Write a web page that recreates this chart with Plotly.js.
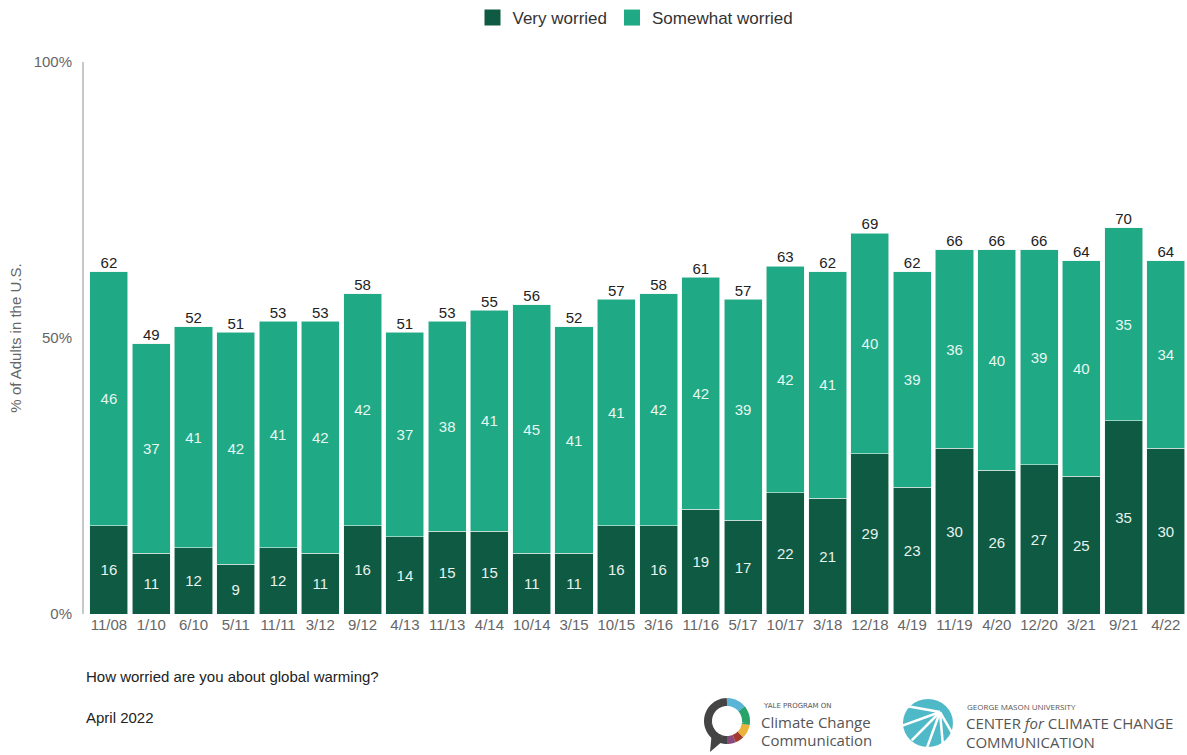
<!DOCTYPE html>
<html><head><meta charset="utf-8">
<script src="https://cdn.plot.ly/plotly-3.0.1.min.js"></script>
<style>body{margin:0;background:#fff}#chart{width:1187px;height:755px}</style>
</head><body><div id="chart"></div>
<script>
const categories = ["11/08","1/10","6/10","5/11","11/11","3/12","9/12","4/13","11/13","4/14","10/14","3/15","10/15","3/16","11/16","5/17","10/17","3/18","12/18","4/19","11/19","4/20","12/20","3/21","9/21","4/22"];
const veryWorried = [16,11,12,9,12,11,16,14,15,15,11,11,16,16,19,17,22,21,29,23,30,26,27,25,35,30];
const somewhatWorried = [46,37,41,42,41,42,42,37,38,41,45,41,41,42,42,39,42,41,40,39,36,40,39,40,35,34];
const totals = [62,49,52,51,53,53,58,51,53,55,56,52,57,58,61,57,63,62,69,62,66,66,66,64,70,64];
const yTickVals = [0,50,100];
const yTickText = ["0%","50%","100%"];

const W = 1187, H = 755, L = 84, R = 0, T = 62, B = 141;
const pw = W - L - R, ph = H - T - B;
const px = x => (x - L) / pw;
const py = y => (H - B - y) / ph;

const f = "Liberation Sans, Arial, sans-serif";
const dark = "#0e5a43", light = "#1fa985";
// upper segment reaches the rounded total shown above each bar
const upperHeights = totals.map((t,i) => t - veryWorried[i]);
const traces = [
  {type:"bar", name:"Very worried", x:categories, y:veryWorried, marker:{color:dark, line:{color:"#e8f5f0", width:0.6}},
   text:veryWorried.map(String), textposition:"inside", insidetextanchor:"middle", textangle:0, showlegend:false,
   textfont:{color:"#e6f3ee", size:15, family:f}, hoverinfo:"skip"},
  {type:"bar", name:"Somewhat worried", x:categories, y:upperHeights, marker:{color:light, line:{color:"#e8f5f0", width:0.6}},
   text:somewhatWorried.map(String), textposition:"inside", insidetextanchor:"middle", textangle:0, showlegend:false,
   textfont:{color:"#e6f7f1", size:15, family:f}, hoverinfo:"skip"},
  {type:"scatter", mode:"text", x:categories, y:totals, text:totals.map(String),
   textposition:"top center", textfont:{color:"#222", size:15, family:f},
   showlegend:false, hoverinfo:"skip", cliponaxis:false},
  {type:"scatter", mode:"markers", name:"Very worried", x:[null], y:[null], marker:{symbol:"square", size:20, color:dark}, showlegend:true},
  {type:"scatter", mode:"markers", name:"Somewhat worried", x:[null], y:[null], marker:{symbol:"square", size:20, color:light}, showlegend:true}
];

function arcPath(cx, cy, r, a0, a1) {
  const n = 24; let d = "";
  for (let i = 0; i <= n; i++) {
    const a = (a0 + (a1 - a0) * i / n) * Math.PI / 180;
    const x = px(cx + r * Math.cos(a)), y = py(cy - r * Math.sin(a));
    d += (i === 0 ? "M" : "L") + x.toFixed(5) + "," + y.toFixed(5);
  }
  return d;
}
const shapes = [];
// Yale ring logo
const ring = [[90,250,"#444"],[250,272,"#444"],[-90,-68,"#8a4a7e"],[-68,-45,"#a33a2e"],[-45,-10,"#e8b43a"],[-10,40,"#2aa36b"],[40,90,"#5ab4d6"]];
ring.forEach(([a0,a1,c]) => shapes.push({type:"path", xref:"paper", yref:"paper", path:arcPath(727,721,19,a0,a1), line:{color:c, width:8}}));
shapes.push({type:"path", xref:"paper", yref:"paper", path:"M"+px(712)+","+py(731)+"L"+px(710)+","+py(752)+"L"+px(724)+","+py(740)+"Z", fillcolor:"#444", line:{width:0}});
// GMU shell logo
shapes.push({type:"circle", xref:"paper", yref:"paper", x0:px(903), x1:px(953), y0:py(747), y1:py(699), fillcolor:"#4fb9c8", line:{width:0}});
[170,200,225,250,275,300].forEach(a => {
  const r = a*Math.PI/180, cx = 940, cy = 712;
  shapes.push({type:"line", xref:"paper", yref:"paper", x0:px(cx), y0:py(cy), x1:px(cx+40*Math.cos(r)), y1:py(cy-40*Math.sin(r)), line:{color:"#fff", width:2.5}});
});

const annotations = [
  {text:"How worried are you about global warming?", xref:"paper", yref:"paper", x:px(84), y:py(676), xanchor:"left", yanchor:"middle", showarrow:false, font:{size:15, color:"#222", family:f}},
  {text:"April 2022", xref:"paper", yref:"paper", x:px(84), y:py(717), xanchor:"left", yanchor:"middle", showarrow:false, font:{size:15, color:"#222", family:f}},
  {text:"YALE PROGRAM ON", xref:"paper", yref:"paper", x:px(761), y:py(706), xanchor:"left", yanchor:"middle", showarrow:false, font:{size:7, color:"#555", family:"DejaVu Sans, sans-serif"}},
  {text:"Climate Change", xref:"paper", yref:"paper", x:px(759), y:py(722), xanchor:"left", yanchor:"middle", showarrow:false, font:{size:15, color:"#555", family:"Open Sans, sans-serif"}},
  {text:"Communication", xref:"paper", yref:"paper", x:px(759), y:py(740), xanchor:"left", yanchor:"middle", showarrow:false, font:{size:15, color:"#555", family:"Open Sans, sans-serif"}},
  {text:"GEORGE MASON UNIVERSITY", xref:"paper", yref:"paper", x:px(965), y:py(706), xanchor:"left", yanchor:"middle", showarrow:false, font:{size:8, color:"#555", family:"Open Sans, sans-serif"}},
  {text:"CENTER <i>for</i> CLIMATE CHANGE", xref:"paper", yref:"paper", x:px(964), y:py(723), xanchor:"left", yanchor:"middle", showarrow:false, font:{size:15, color:"#555", family:"Open Sans, sans-serif"}},
  {text:"COMMUNICATION", xref:"paper", yref:"paper", x:px(964), y:py(742), xanchor:"left", yanchor:"middle", showarrow:false, font:{size:15, color:"#555", family:"Open Sans, sans-serif"}}
];

const layout = {
  width:W, height:H, margin:{l:L, r:R, t:T, b:B}, paper_bgcolor:"#fff", plot_bgcolor:"#fff",
  barmode:"stack", bargap:0.1, showlegend:true,
  font:{family:f, color:"#333", size:15},
  legend:{orientation:"h", x:0.5, xanchor:"center", xref:"paper", y:1, yref:"container", yanchor:"top", font:{size:17, color:"#333"}, traceorder:"normal", itemwidth:30},
  xaxis:{type:"category", range:[-0.59,25.5], showline:false, ticks:"", tickfont:{size:15, color:"#666"}, fixedrange:true, automargin:false},
  yaxis:{range:[0,100], tickvals:yTickVals, ticktext:yTickText, showgrid:false, zeroline:false, showline:true, linecolor:"#c8c8c8", linewidth:2,
         tickfont:{size:15, color:"#666"}, ticks:"", ticklen:0, ticklabelstandoff:7, automargin:false,
         title:{text:"% of Adults in the U.S.", font:{size:15, color:"#666"}, standoff:8}},
  shapes, annotations
};
Plotly.newPlot("chart", traces, layout, {displayModeBar:false, staticPlot:true});
</script></body></html>
